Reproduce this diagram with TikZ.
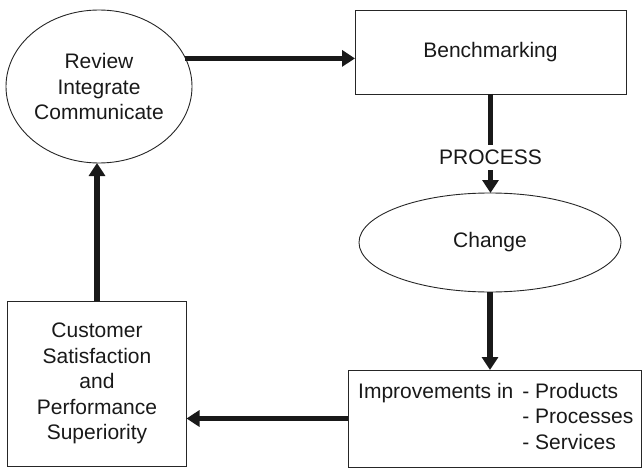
\documentclass[tikz,border=0pt]{standalone}
\usepackage{fontspec}
\setmainfont{Liberation Sans}
\usetikzlibrary{shapes.geometric,arrows.meta}
\begin{document}
\begin{tikzpicture}[x=1pt,y=-1pt,
  every node/.style={font=\fontsize{21}{25.6}\selectfont, text=black!90},
  frame/.style={draw=black!85, line width=0.9pt, inner sep=0pt, outer sep=0pt, align=center},
  oval/.style={frame, ellipse},
  boxed/.style={frame, rectangle},
  flow/.style={draw=black!90, line width=5.5pt, -{Triangle[length=13pt,width=16pt]}}]
\useasboundingbox (0,0) rectangle (642,468);

% stages of the cycle
\node[oval, minimum width=186pt, minimum height=153pt] (circ) at (99,86.5)
  {Review\\Integrate\\Communicate};
\node[boxed, minimum width=271pt, minimum height=84pt] (bench) at (490.5,52) {Benchmarking};
\node[oval, minimum width=262pt, minimum height=99pt] (change) at (490,242.5) {Change};
\node[boxed, minimum width=293pt, minimum height=97pt] (impr) at (494.5,418.5) {};
\node[anchor=west, inner sep=0pt] (imprtext) at (358,418.5)
  {\begin{tabular}{@{}l@{\hspace{9pt}}l@{}}
    Improvements in & - Products\\
     & - Processes\\
     & - Services
  \end{tabular}};
\node[boxed, minimum width=179pt, minimum height=165pt] (cust) at (97,383.5)
  {Customer\\Satisfaction\\and\\Performance\\Superiority};

% connectors
\draw[flow] (circ.18) -- (circ.18 -| bench.west);
\draw[flow] (bench.south) -- node[pos=0.64, fill=white, inner xsep=2pt, inner ysep=5pt] (proc) {PROCESS}
  (bench.south |- change.north);
\draw[flow] (change.south) -- (change.south |- impr.north);
\draw[flow] (impr.west) -- (impr.west -| cust.east);
\draw[flow] (cust.north) -- (cust.north |- circ.south);
\end{tikzpicture}
\end{document}
